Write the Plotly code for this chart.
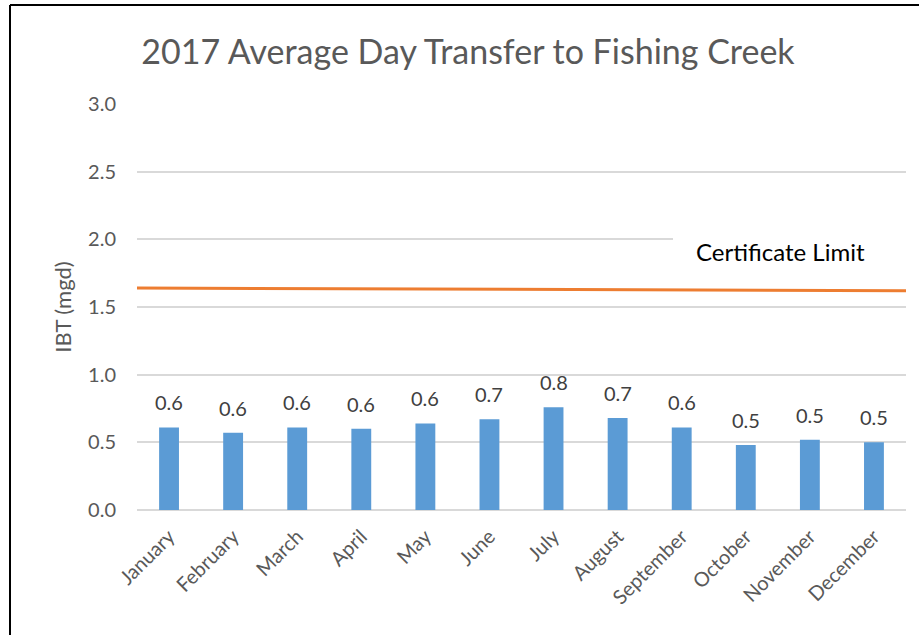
import plotly.graph_objects as go

# Monthly average day transfer (mgd)
months = ['January', 'February', 'March', 'April', 'May', 'June', 'July',
          'August', 'September', 'October', 'November', 'December']
ibt_mgd = [0.61, 0.57, 0.61, 0.60, 0.64, 0.67, 0.76, 0.68, 0.61, 0.48, 0.52, 0.50]

# Certificate limit line (start / end of the plot)
limit_x = [-0.5, 11.5]
limit_mgd = [1.64, 1.62]

y_ticks = [0.0, 0.5, 1.0, 1.5, 2.0, 2.5, 3.0]

FONT = 'Lato, Carlito, Calibri, sans-serif'
GREY = '#595959'

fig = go.Figure()

fig.add_trace(go.Bar(
    x=list(range(len(months))),
    y=ibt_mgd,
    marker=dict(color='#5b9bd5', line=dict(width=0)),
    width=0.31,
    hoverinfo='y',
))

fig.add_trace(go.Scatter(
    x=limit_x,
    y=limit_mgd,
    mode='lines',
    line=dict(color='#ed7d31', width=3),
    hoverinfo='skip',
))

# data labels above each bar
for i, v in enumerate(ibt_mgd):
    fig.add_annotation(x=i, y=v, text=f'{v:.1f}', showarrow=False,
                       yanchor='bottom', yshift=11,
                       font=dict(size=20, color='#404040', family=FONT))

# white box behind the "Certificate Limit" label, hides the gridline
fig.add_shape(type='rect', xref='paper', yref='y',
              x0=(673 - 137) / 769, x1=1.0, y0=1.88, y1=2.1,
              fillcolor='white', line=dict(width=0), layer='above')

fig.add_annotation(text='Certificate Limit', xref='paper', yref='y',
                   x=(780 - 137) / 769, y=1.91, xanchor='center',
                   showarrow=False,
                   font=dict(size=24, color='black', family=FONT))

# frame around the picture (left and top edges)
fig.add_shape(type='line', xref='paper', yref='paper',
              x0=-127 / 769, x1=-127 / 769, y0=-0.31, y1=505 / 406,
              line=dict(color='black', width=2))
fig.add_shape(type='line', xref='paper', yref='paper',
              x0=-127 / 769, x1=782 / 769, y0=505 / 406, y1=505 / 406,
              line=dict(color='black', width=2))

fig.update_layout(
    width=924, height=635,
    margin=dict(l=137, r=18, t=104, b=125),
    paper_bgcolor='white', plot_bgcolor='white',
    showlegend=False,
    font=dict(family=FONT, color=GREY),
    title=dict(text='2017 Average Day Transfer to Fishing Creek',
               font=dict(size=34, color=GREY, family=FONT),
               x=468 / 924, xref='container', xanchor='center',
               y=1 - 52 / 635, yref='container', yanchor='middle'),
    bargap=0.69,
)

fig.update_xaxes(
    range=[-0.5, 11.5],
    tickvals=list(range(len(months))),
    ticktext=months,
    tickangle=-45,
    tickfont=dict(size=20, color=GREY, family=FONT),
    showgrid=False, zeroline=False,
    showline=False,
    ticks='', ticklabelstandoff=10,
)

fig.update_yaxes(
    range=[0, 3.0],
    tickvals=y_ticks,
    tickformat='.1f',
    tickfont=dict(size=20, color=GREY, family=FONT),
    showgrid=True, gridcolor='#d9d9d9', gridwidth=1.5,
    zeroline=True, zerolinecolor='#d9d9d9', zerolinewidth=1.5,
    showline=False, ticks='', ticklabelstandoff=20,
    title=dict(text='IBT (mgd)', font=dict(size=22, color=GREY, family=FONT),
               standoff=10),
)

fig.write_html('out.html', config={'displayModeBar': False},
               post_script="document.body.style.margin='0';")
